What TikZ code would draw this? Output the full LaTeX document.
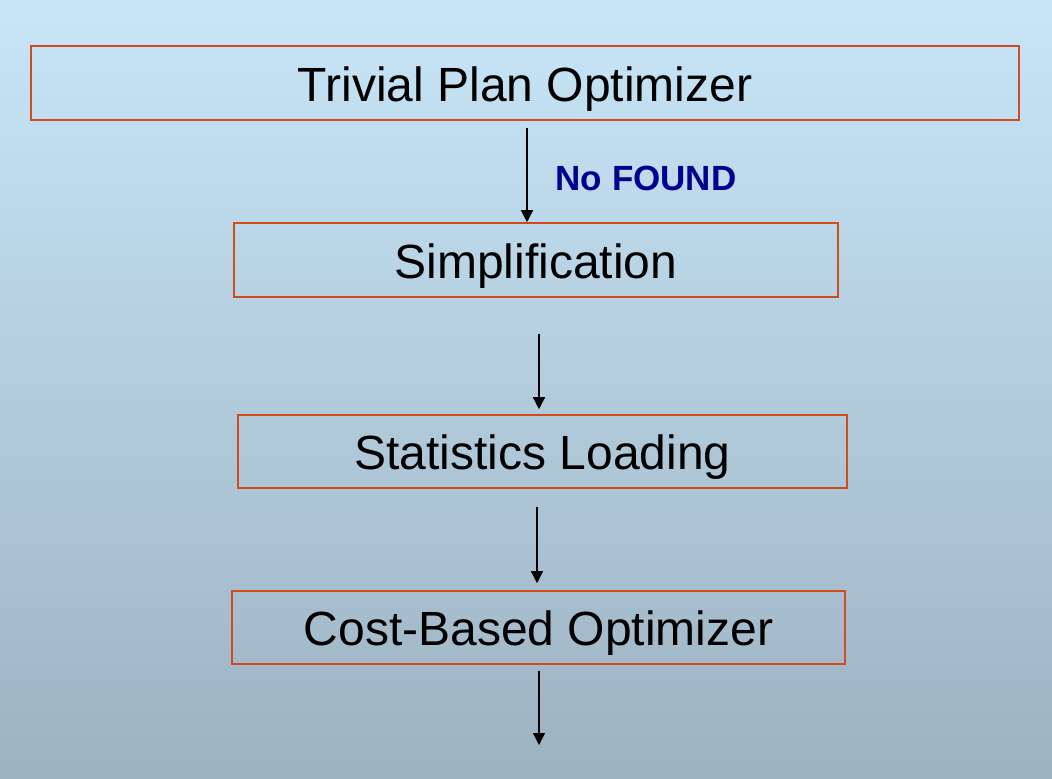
\documentclass[tikz,border=0pt]{standalone}
\usepackage{fontspec}
\setmainfont{Liberation Sans}
\usetikzlibrary{arrows.meta, positioning}
\definecolor{skytop}{HTML}{C8E6F8}
\definecolor{skybottom}{HTML}{9DB2C1}
\definecolor{boxred}{HTML}{D14B21}
\definecolor{labelblue}{HTML}{000091}

\begin{document}
\begin{tikzpicture}[x=0.5pt, y=-0.5pt,
    stage/.style={draw=boxred, line width=0.8pt, minimum height=37pt, inner sep=0pt, text height=19pt, text depth=0.6pt, font=\fontsize{24pt}{28pt}\selectfont},
    flow/.style={-{Triangle[length=6pt, width=6pt]}, line width=0.7pt, black}]
    \shade[top color=skytop, bottom color=skybottom] (0,0) rectangle (1052,778);

    \node[stage, minimum width=494pt] (trivial) at (525,83) {Trivial Plan Optimizer};
    \node[stage, minimum width=302pt] (simp) at (536,260) {Simplification};
    \node[stage, minimum width=304.5pt, minimum height=36.5pt] (stats) at (542.5,451.5) {Statistics Loading};
    \node[stage, minimum width=306.5pt, minimum height=36.5pt] (cost) at (538.5,627.5) {Cost-Based Optimizer};
    \coordinate (next) at (539,745);

    \draw[flow] ([xshift=1pt, yshift=-3.5pt]trivial.south) -- ([xshift=-4.5pt]simp.north)
        node[midway, right=14pt, yshift=-1.5pt, inner sep=0pt, text=labelblue, font=\fontsize{17.5pt}{20pt}\selectfont\bfseries] {No FOUND};
    \draw[flow] ([xshift=1.5pt, yshift=-18pt]simp.south) -- ([xshift=-1.75pt, yshift=2.5pt]stats.north);
    \draw[flow] ([xshift=-2.75pt, yshift=-9pt]stats.south) -- ([xshift=-0.75pt, yshift=3.5pt]cost.north);
    \draw[flow] ([xshift=0.25pt, yshift=-3pt]cost.south) -- (next);
\end{tikzpicture}
\end{document}
